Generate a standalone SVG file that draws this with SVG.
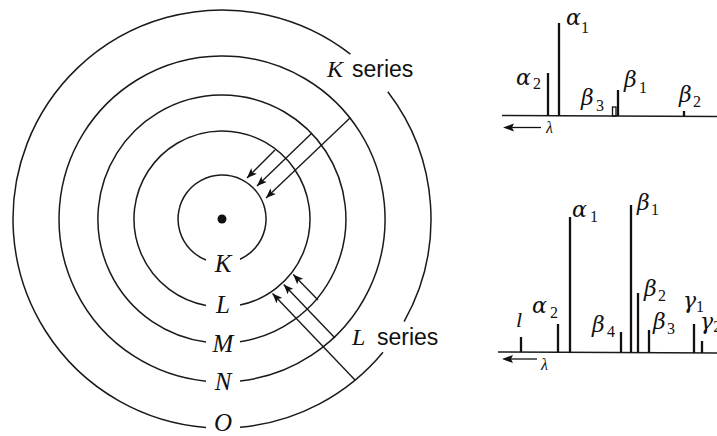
<svg xmlns="http://www.w3.org/2000/svg" width="717" height="436" viewBox="0 0 717 436">
<style>
.shell{fill:none;stroke:#1a1a1a;stroke-width:1.5}
.lbl{font-family:"Liberation Serif",serif;font-style:italic;font-size:25px;fill:#111;text-anchor:middle}
.it{font-family:"Liberation Serif",serif;font-style:italic;fill:#111}
.sans{font-family:"Liberation Sans",Arial,sans-serif;fill:#111}
.gk{font-family:"DejaVu Serif",serif;font-style:italic;font-size:22px;fill:#111}
.sub{font-family:"Liberation Serif",serif;font-size:16px;fill:#111}
.tr{stroke:#1a1a1a;stroke-width:1.4;fill:none;marker-end:url(#ah)}
.base{stroke:#1a1a1a;stroke-width:1.6}
.pk{stroke:#111;stroke-width:2.3}
</style>
<defs>
<marker id="ah" viewBox="0 0 10 8" refX="10" refY="4" markerWidth="10" markerHeight="8" markerUnits="userSpaceOnUse" orient="auto">
<path d="M0,0 L10,4 L0,8 L2.5,4 z" fill="#111"/>
</marker>
</defs>
<rect width="717" height="436" fill="#fff"/>
<g id="nucleus"><circle cx="222" cy="219" r="4.5" fill="#111"/></g>
<g id="shell-K"><path class="shell" d="M240,259.2 A44,44 0 1 0 206,260"/><text class="lbl" x="223" y="272">K</text></g>
<g id="shell-L"><path class="shell" d="M240,305.1 A88,88 0 1 0 206,305.5"/><text class="lbl" x="223" y="313">L</text></g>
<g id="shell-M"><path class="shell" d="M240,341.7 A124,124 0 1 0 206,342"/><text class="lbl" x="223" y="352">M</text></g>
<g id="shell-N"><path class="shell" d="M240,381 A163,163 0 1 0 206,381.2"/><text class="lbl" x="223" y="390">N</text></g>
<g id="shell-O"><path class="shell" d="M240,427.2 A209,209 0 0 0 383,352.2 M404.1,321.6 A209,209 0 0 0 387.8,91.8 M350.4,54.1 A209,209 0 1 0 206,427.4"/><text class="lbl" x="223" y="431">O</text></g>
<g id="connectors">
<line class="tr" x1="350" y1="118" x2="266" y2="198"/>
<line class="tr" x1="312" y1="133" x2="257" y2="186"/>
<line class="tr" x1="275" y1="150" x2="247" y2="178"/>
<line class="tr" x1="355" y1="380" x2="272.5" y2="293.5"/>
<line class="tr" x1="335" y1="338" x2="283.7" y2="284.5"/>
<line class="tr" x1="318" y1="300" x2="293.2" y2="274.5"/>
</g>
<g id="label-K-series"><text x="327" y="77"><tspan class="it" font-size="24">K</tspan><tspan class="sans" font-size="23" x="352">series</tspan></text></g>
<g id="label-L-series"><text x="352" y="345"><tspan class="it" font-size="24">L</tspan><tspan class="sans" font-size="23" x="377">series</tspan></text></g>
<g id="spectrum-K">
<line class="base" x1="502" y1="115.5" x2="717" y2="116.5"/>
<line class="pk" x1="548" y1="73" x2="548" y2="116"/>
<line class="pk" x1="559" y1="23" x2="559" y2="116"/>
<rect x="612.5" y="107" width="3.5" height="9" fill="none" stroke="#111" stroke-width="1.3"/>
<line class="pk" x1="618" y1="90" x2="618" y2="116"/>
<line class="pk" x1="684" y1="111" x2="684" y2="116"/>
<text class="gk" x="566" y="25">α</text><text class="sub" x="581" y="33">1</text>
<text class="gk" x="516" y="85">α</text><text class="sub" x="533" y="89">2</text>
<text class="gk" x="581" y="105">β</text><text class="sub" x="596" y="111">3</text>
<text class="gk" x="624" y="87">β</text><text class="sub" x="639" y="93">1</text>
<text class="gk" x="679" y="102">β</text><text class="sub" x="693" y="107">2</text>
<polygon points="503,127.5 514,123.5 512,127.5 514,131.5" fill="#111"/>
<line x1="512" y1="127.5" x2="541" y2="127.5" stroke="#111" stroke-width="1.3"/>
<text class="it" font-size="16" x="546" y="133">λ</text>
</g>
<g id="spectrum-L">
<line class="base" x1="498" y1="352" x2="717" y2="353"/>
<line class="pk" x1="521" y1="337" x2="521" y2="352"/>
<line class="pk" x1="558" y1="324" x2="558" y2="352"/>
<line class="pk" x1="570" y1="217" x2="570" y2="352"/>
<line class="pk" x1="621" y1="332" x2="621" y2="352"/>
<line class="pk" x1="631" y1="205" x2="631" y2="352.5"/>
<line class="pk" x1="638" y1="293" x2="638" y2="352.5"/>
<line class="pk" x1="649" y1="330" x2="649" y2="352.5"/>
<line class="pk" x1="694" y1="324" x2="694" y2="353"/>
<line class="pk" x1="702" y1="341" x2="702" y2="353"/>
<text class="it" font-size="22" x="516" y="327">l</text>
<text class="gk" x="532" y="313">α</text><text class="sub" x="550" y="318">2</text>
<text class="gk" x="572" y="217">α</text><text class="sub" x="590" y="222">1</text>
<text class="gk" x="592" y="332">β</text><text class="sub" x="607" y="337">4</text>
<text class="gk" x="637" y="210">β</text><text class="sub" x="651" y="215">1</text>
<text class="gk" x="644" y="296">β</text><text class="sub" x="658" y="301">2</text>
<text class="gk" x="653" y="329">β</text><text class="sub" x="667" y="334">3</text>
<text class="gk" x="683" y="308">γ</text><text class="sub" x="696" y="312">1</text>
<text x="700" y="329"><tspan class="gk" font-size="15">γ</tspan><tspan class="sub" font-size="9" dy="3">2</tspan></text>
<polygon points="502,359 513,355 511,359 513,363" fill="#111"/>
<line x1="511" y1="359" x2="537" y2="359" stroke="#111" stroke-width="1.3"/>
<text class="it" font-size="16" x="541" y="370">λ</text>
</g>
</svg>
